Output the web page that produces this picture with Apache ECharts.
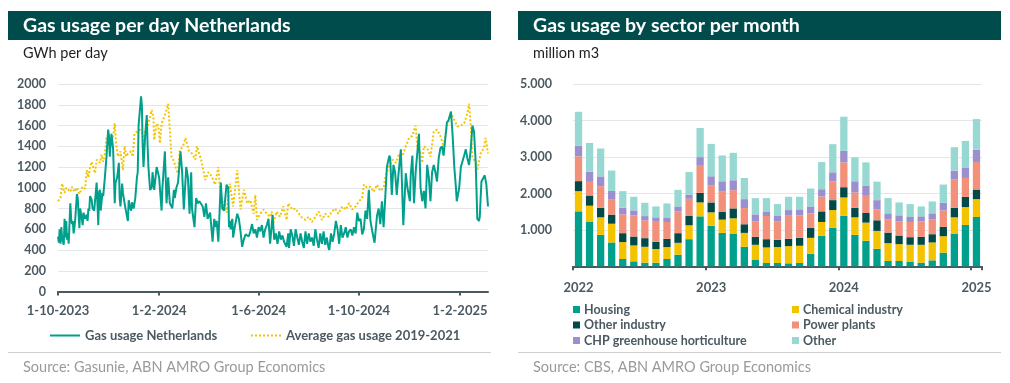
<!DOCTYPE html>
<html><head><meta charset="utf-8">
<script src="https://cdn.jsdelivr.net/npm/echarts@6/dist/echarts.min.js"></script>
<style>html,body{margin:0;padding:0;background:#fff}#c{width:1010px;height:383px}</style>
</head><body><div id="c"></div><script>
// ---------- Left chart: daily gas usage (GWh per day) ----------
const dailyStart = '2023-10-01';
const dailyCount = 524; // 1-10-2023 .. 7-3-2025
const dailyTickDates = ['2023-10-01', '2024-02-01', '2024-06-01', '2024-10-01', '2025-02-01'];
const gasYTicks = [0, 200, 400, 600, 800, 1000, 1200, 1400, 1600, 1800, 2000];
// [day offset from 1-10-2023, GWh]
const gasUsageNL = [[0,530],[1,470],[2,600],[3,460],[4,620],[5,520],[6,480],[7,450],[8,700],[9,520],[10,680],[11,500],[12,560],[13,460],
[15,850],[16,700],[17,650],[18,680],[19,560],[20,620],[21,700],[23,940],[24,900],
[26,610],[27,800],[29,700],[30,640],[31,760],[33,700],[35,740],[36,680],[37,800],[38,780],[39,920],[41,880],[42,800],
[44,780],[47,1050],[49,640],[50,960],[51,980],[52,780],[54,950],[55,920],
[57,1100],[59,1300],[61,1560],[62,1500],[63,1300],[65,1520],[66,1530],[67,1380],
[69,850],[70,1050],[72,1100],[74,1240],[75,900],[76,820],[78,1040],[79,950],
[81,850],[83,760],[85,680],[86,880],[88,800],[89,780],[90,860],[92,800],[93,800],[94,900],[96,1100],
[97,1150],[98,1600],[101,1880],[102,1800],[103,1400],[104,1200],[106,1500],[108,1700],[109,1400],[110,1200],
[112,980],[114,1000],[115,1150],[117,980],[120,1200],[123,1100],[126,780],[127,1000],
[130,1350],[132,850],[134,1100],[136,850],[138,820],[139,800],[141,980],[142,900],
[144,1000],[146,1050],[149,1350],[151,1150],[153,790],[156,1200],[158,1100],[160,750],[162,1150],[163,800],
[166,620],[168,900],[170,850],[172,870],[174,880],[176,820],[178,720],[180,850],[182,700],[185,760],[188,480],
[190,700],[192,620],[193,680],[195,480],[198,1050],[200,800],[202,780],[205,1030],[207,1000],[208,620],[209,680],[210,600],[212,700],[213,520],
[215,620],[218,750],[220,700],[222,580],[224,430],[226,500],[228,550],[230,560],[232,530],[234,580],[236,650],
[238,560],[240,600],[242,520],[244,620],[246,580],[248,640],[250,520],[252,600],[254,640],[256,700],[258,460],[261,740],[263,500],[265,560],[267,460],[269,580],[271,500],[273,540],[275,480],[278,430],
[280,560],[281,420],[283,600],[285,540],[287,440],[289,600],[291,520],[293,450],[295,560],[297,480],[299,420],[301,580],[303,460],[305,560],[307,480],[309,520],[311,440],[313,600],[315,500],[317,420],[319,560],
[321,460],[323,580],[325,450],[327,520],[329,420],[330,400],[332,560],[334,480],
[336,560],[338,680],[340,600],[342,460],[344,640],[346,520],[348,560],[350,620],[352,520],[354,580],[356,600],[358,540],[360,620],
[362,560],[364,760],[366,680],[368,700],[370,550],[372,600],[374,780],[376,700],[378,980],[380,680],[382,590],[385,470],[388,730],[390,800],[392,650],[394,870],[396,620],[398,900],[400,1200],[403,1310],[404,1290],[406,930],[408,1220],[410,1150],[412,930],[414,1120],[417,1370],[420,640],[423,1140],[425,1000],[428,870],[429,1120],[431,1310],[433,850],[435,1150],[439,1520],[441,1000],[443,870],[445,970],[447,800],[449,1220],[451,1100],[453,870],[455,1150],[457,1220],[459,1150],[461,1060],[463,1280],[465,1380],[467,1400],[469,1310],[471,1470],[473,1630],[475,1650],[478,1735],[480,1500],[482,1200],[484,1000],[485,870],[488,1000],[490,1200],[494,1310],[496,1370],[498,1280],[500,1220],[502,1370],[504,1600],[506,1540],[508,1250],[510,700],[512,680],[513,720],[515,1060],[517,1090],[519,1120],[521,1030],[523,820]];
const gasAverage1921 = [[0,870],[3,900],[5,1040],[8,950],[10,1000],[12,1000],[15,960],[17,1010],[20,960],[23,1000],[26,940],[30,1010],[33,990],[35,1170],[37,1100],[39,1200],[41,1250],[45,1140],[47,1270],[51,1240],[53,1320],[55,1250],[57,1330],[59,1490],[63,1410],[67,1490],[69,1620],[71,1400],[73,1300],[76,1350],[79,1170],[81,1400],[83,1300],[85,1330],[89,1350],[91,1300],[93,1520],[96,1540],[100,1560],[102,1540],[104,1400],[106,1560],[110,1620],[114,1750],[116,1680],[117,1460],[120,1620],[122,1600],[124,1430],[126,1620],[130,1700],[134,1810],[136,1560],[138,1300],[140,1270],[142,1230],[144,1170],[146,1140],[148,1360],[152,1400],[155,1480],[159,1360],[163,1330],[167,1270],[169,1400],[173,1300],[175,1240],[179,1075],[183,1150],[187,1110],[191,1030],[195,1200],[199,790],[202,870],[205,760],[209,1040],[213,820],[218,1170],[222,790],[226,980],[230,850],[234,880],[238,750],[240,930],[242,690],[246,750],[250,790],[254,750],[258,720],[260,770],[262,660],[266,770],[270,720],[274,820],[278,690],[280,850],[285,790],[289,800],[293,750],[297,710],[301,690],[305,720],[309,670],[313,720],[317,770],[321,690],[325,750],[329,720],[333,770],[337,800],[341,750],[346,820],[350,790],[354,850],[358,790],[362,820],[366,870],[370,900],[372,1030],[376,1000],[380,1010],[384,960],[388,1030],[392,970],[396,1000],[398,1090],[402,1200],[407,1270],[411,1240],[415,1330],[419,1310],[423,1400],[427,1480],[431,1500],[435,1600],[437,1400],[441,1330],[443,1240],[445,1400],[449,1380],[453,1300],[457,1540],[461,1560],[465,1500],[469,1400],[473,1590],[478,1720],[482,1650],[486,1590],[490,1600],[494,1620],[498,1720],[500,1810],[502,1600],[504,1300],[508,1240],[510,1170],[514,1330],[518,1380],[520,1480],[523,1330]];

// ---------- Right chart: gas usage by sector per month (million m3) ----------
const monthStartYear = 2022;
const monthCount = 37; // Jan 2022 .. Jan 2025
const sectorYTicks = ['', '1.000', '2.000', '3.000', '4.000', '5.000'];
const housing      = [1510,1230,865,655,200,136,100,100,200,318,745,1373, 1118,918,900,536,173,91,91,82,91,345,836,1055, 1391,864,700,482,145,145,118,100,164,373,900,1136, 1355];
const chemical     = [555,435,480,515,465,437,436,373,327,327,382,382, 364,364,418,382,418,427,436,473,473,437,382,490, 500,481,500,491,491,464,473,491,491,454,445,491, 490];
const otherIndustry= [275,280,265,250,245,245,237,200,228,265,255,263, 273,209,273,237,218,227,200,200,218,273,291,273, 282,264,264,291,291,236,209,218,227,255,264,282, 264];
const powerPlants  = [680,375,590,410,520,582,491,572,463,600,473,764, 463,573,500,445,427,637,500,636,618,400,409,518, 682,418,472,300,364,391,418,427,400,454,782,518, 755];
const chpGreenhouse= [290,280,270,240,180,136,116,100,109,135,118,218, 255,272,273,245,191,127,155,154,164,190,200,246, 318,309,273,254,164,164,137,137,173,209,236,273, 336];
const otherSector  = [935,790,765,560,455,374,365,300,400,455,617,800, 890,709,754,582,446,364,327,365,346,491,746,773, 936,655,646,509,418,355,354,272,327,500,646,745, 845];

// ---------- derived categories ----------
const pad = n => (n < 10 ? '0' : '') + n;
const dayCats = [];
{
  const t0 = Date.UTC(2023, 9, 1);
  for (let i = 0; i < dailyCount; i++) {
    const d = new Date(t0 + i * 86400000);
    dayCats.push(d.getUTCFullYear() + '-' + pad(d.getUTCMonth() + 1) + '-' + pad(d.getUTCDate()));
  }
}
const monthCats = [];
for (let i = 0; i < monthCount; i++) {
  monthCats.push((monthStartYear + Math.floor(i / 12)) + '-' + pad(i % 12 + 1));
}
const dayLabel = s => { const p = s.split('-'); return (+p[2]) + '-' + (+p[1]) + '-' + p[0]; };
const isDailyTick = (idx, val) => dailyTickDates.indexOf(val) >= 0;

const AX = '#4b5961';
const FONT = 'Lato';
const teal = '#004c4d';

const chart = echarts.init(document.getElementById('c'), null, {renderer: 'canvas'});
const sectorColors = ['#00a08d', '#f4c300', '#014a48', '#f2907a', '#9b8fd0', '#97d9d2'];
const sectorNames = ['Housing', 'Chemical industry', 'Other industry', 'Power plants', 'CHP greenhouse horticulture', 'Other'];
const sectorData = [housing, chemical, otherIndustry, powerPlants, chpGreenhouse, otherSector];

const textEl = (x, y, text, opts) => ({
  type: 'text', left: x, top: y, silent: true,
  style: Object.assign({text: text, fill: '#222', fontFamily: FONT, fontSize: 13}, opts || {})
});
const legText = {color: AX, fontSize: 12.5, fontWeight: 'bold', fontFamily: FONT};

chart.setOption({
  animation: false,
  textStyle: {fontFamily: FONT},
  graphic: [
    {type: 'rect', shape: {x: 8, y: 11, width: 483, height: 29}, style: {fill: teal}, silent: true},
    {type: 'rect', shape: {x: 518, y: 11, width: 483, height: 29}, style: {fill: teal}, silent: true},
    textEl(23, 16, 'Gas usage per day Netherlands', {fill: '#fff', fontSize: 19.5, fontWeight: 'bold'}),
    textEl(533, 16, 'Gas usage by sector per month', {fill: '#fff', fontSize: 19.5, fontWeight: 'bold'}),
    textEl(23, 46, 'GWh per day', {fill: '#1e1e1e', fontSize: 14.5}),
    textEl(533, 46, 'million m3', {fill: '#1e1e1e', fontSize: 14.5}),
    {type: 'line', shape: {x1: 8, y1: 352.5, x2: 491, y2: 352.5}, style: {stroke: '#cfcfcf', lineWidth: 1}, silent: true},
    {type: 'line', shape: {x1: 518, y1: 352.5, x2: 1001, y2: 352.5}, style: {stroke: '#cfcfcf', lineWidth: 1}, silent: true},
    textEl(23, 360, 'Source: Gasunie, ABN AMRO Group Economics', {fill: '#9a9a9a', fontSize: 14.5}),
    textEl(533, 360, 'Source: CBS, ABN AMRO Group Economics', {fill: '#9a9a9a', fontSize: 14.5})
  ],
  legend: [
    {left: 49, top: 329, padding: 0, itemWidth: 30, itemHeight: 10, data: ['Gas usage Netherlands'],
     itemStyle: {opacity: 0}, textStyle: Object.assign({}, legText, {fontSize: 13})},
    {left: 250, top: 329, padding: 0, itemWidth: 30, itemHeight: 10, data: ['Average gas usage 2019-2021'],
     itemStyle: {opacity: 0}, textStyle: Object.assign({}, legText, {fontSize: 13})},
    {left: 573, top: 302, padding: 0, orient: 'vertical', itemWidth: 7, itemHeight: 7, itemGap: 0.5, icon: 'rect',
     data: ['Housing', 'Other industry', 'CHP greenhouse horticulture'],
     textStyle: Object.assign({}, legText, {lineHeight: 15, padding: [0, 0, 0, -1]})},
    {left: 792, top: 302, padding: 0, orient: 'vertical', itemWidth: 7, itemHeight: 7, itemGap: 0.5, icon: 'rect',
     data: ['Chemical industry', 'Power plants', 'Other'],
     textStyle: Object.assign({}, legText, {lineHeight: 15, padding: [0, 0, 0, -1]})}
  ],
  grid: [
    {left: 58, right: 522, top: 84, bottom: 91.5},
    {left: 573, right: 28, top: 84.3, bottom: 116.7}
  ],
  xAxis: [
    {gridIndex: 0, type: 'category', data: dayCats, boundaryGap: false,
     axisLine: {lineStyle: {color: AX, width: 2}},
     axisTick: {show: true, interval: isDailyTick, length: 4, lineStyle: {color: AX, width: 2}},
     axisLabel: {interval: isDailyTick, formatter: dayLabel, color: AX, fontSize: 13, fontWeight: 'bold', margin: 13},
     splitLine: {show: false}},
    {gridIndex: 1, type: 'category', data: monthCats, boundaryGap: true,
     axisLine: {lineStyle: {color: AX, width: 2}},
     axisTick: {show: true, interval: 11, length: 4, lineStyle: {color: AX, width: 2}},
     axisLabel: {interval: 11, formatter: v => v.slice(0, 4), color: AX, fontSize: 13, fontWeight: 'bold', margin: 15},
     splitLine: {show: false}}
  ],
  yAxis: [
    {gridIndex: 0, type: 'value', min: 0, max: 2000, interval: 200,
     axisLine: {show: false}, axisTick: {show: false},
     axisLabel: {color: AX, fontSize: 12.5, fontWeight: 'bold', margin: 12,
       formatter: v => String(gasYTicks[Math.round(v / 200)])},
     splitLine: {lineStyle: {color: '#e3e7ea', width: 1}}},
    {gridIndex: 1, type: 'value', min: 0, max: 5000, interval: 1000,
     axisLine: {show: false}, axisTick: {show: false},
     axisLabel: {color: AX, fontSize: 12.5, fontWeight: 'bold', margin: 21,
       formatter: v => sectorYTicks[Math.round(v / 1000)]},
     splitLine: {lineStyle: {color: '#e3e7ea', width: 1}}}
  ],
  series: [
    {name: 'Average gas usage 2019-2021', type: 'line', xAxisIndex: 0, yAxisIndex: 0, data: gasAverage1921,
     symbol: 'none', lineStyle: {color: '#f5c400', width: 2, type: [2, 2]}, itemStyle: {color: '#f5c400'}, z: 2},
    {name: 'Gas usage Netherlands', type: 'line', xAxisIndex: 0, yAxisIndex: 0, data: gasUsageNL,
     symbol: 'none', lineStyle: {color: '#00a08d', width: 2}, itemStyle: {color: '#00a08d'}, z: 3}
  ].concat(sectorNames.map((n, i) => ({
    name: n, type: 'bar', stack: 'sector', xAxisIndex: 1, yAxisIndex: 1, data: sectorData[i],
    barWidth: '66%', itemStyle: {color: sectorColors[i]}
  })))
});
</script></body></html>
